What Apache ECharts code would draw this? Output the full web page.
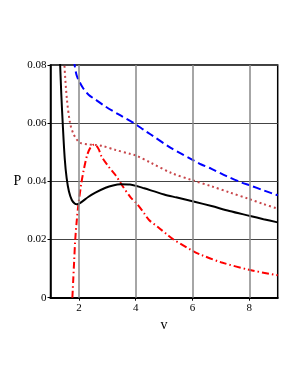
<!DOCTYPE html>
<html><head><meta charset="utf-8">
<script src="https://cdn.jsdelivr.net/npm/echarts@6/dist/echarts.min.js"></script>
<style>html,body{margin:0;padding:0;background:#fff}#c{width:300px;height:388px}</style>
</head><body><div id="c"></div>
<script>
const xTicks = [2, 4, 6, 8];
const yTicks = [0, 0.02, 0.04, 0.06, 0.08];
const blackSolid = [[1.28,0.095],[1.34,0.08],[1.38,0.07],[1.43,0.06],[1.5,0.048],[1.57,0.041],[1.65,0.0365],[1.75,0.0336],[1.85,0.0324],[1.93,0.0321],[2.05,0.0326],[2.34,0.0347],[2.58,0.0361],[2.94,0.0378],[3.2,0.0386],[3.47,0.039],[3.8,0.0389],[4.03,0.0384],[4.3,0.0376],[5.0,0.0355],[5.42,0.0345],[6.07,0.033],[6.67,0.0315],[7.3,0.0298],[8.03,0.0281],[8.5,0.027],[9.0,0.0259]];
const blueDashed = [[1.8,0.086],[1.85,0.08],[1.92,0.0765],[2.01,0.0744],[2.15,0.072],[2.34,0.0698],[2.6,0.068],[2.94,0.0657],[3.4,0.063],[3.94,0.06],[4.3,0.0576],[4.53,0.0561],[5.25,0.0514],[5.6,0.0495],[6.02,0.0473],[6.31,0.0458],[6.67,0.0443],[7.2,0.0418],[7.73,0.0396],[8.03,0.0386],[8.5,0.0369],[8.91,0.0355],[9.0,0.0352]];
const redDotted = [[1.45,0.09],[1.49,0.08],[1.58,0.068],[1.69,0.06],[1.8,0.0565],[1.93,0.0543],[2.05,0.0532],[2.3,0.0527],[2.6,0.0525],[2.82,0.0522],[3.29,0.0508],[3.82,0.0494],[4.03,0.0488],[4.53,0.0464],[5.25,0.0429],[6.02,0.0403],[6.67,0.0383],[7.3,0.0362],[8.0,0.0339],[8.5,0.0322],[9.0,0.0306]];
const redDashDot = [[1.77,0.0],[1.8,0.006],[1.83,0.012],[1.87,0.0198],[1.92,0.026],[1.97,0.031],[2.08,0.039],[2.17,0.0439],[2.29,0.049],[2.4,0.0515],[2.52,0.0526],[2.6,0.0524],[2.7,0.051],[2.8,0.0485],[3.05,0.045],[3.3,0.042],[3.53,0.0385],[3.82,0.0345],[4.03,0.0324],[4.3,0.029],[4.47,0.0267],[4.77,0.0244],[5.13,0.0215],[5.3,0.0202],[6.02,0.016],[6.31,0.0147],[7.0,0.0122],[8.03,0.0095],[9.0,0.0077]];

const chart = echarts.init(document.getElementById('c'), null, {renderer:'canvas'});
const font = '"Liberation Serif", "DejaVu Serif", serif';
chart.setOption({
  animation: false,
  backgroundColor: '#fff',
  grid: {left: 50.5, right: 22.3, top: 65, bottom: 90.3, show: true, borderColor: '#000', borderWidth: 1.5, backgroundColor: 'transparent'},
  xAxis: {
    type: 'value', min: 1, max: 9,
    name: 'v', nameLocation: 'middle', nameGap: 21,
    nameTextStyle: {fontFamily: font, fontSize: 14, color: '#000'},
    axisLine: {show: true, lineStyle: {color: '#000', width: 2}},
    axisTick: {show: true, customValues: xTicks, length: 3, lineStyle: {color: '#000'}},
    axisLabel: {customValues: xTicks, fontFamily: font, fontSize: 11, color: '#000', margin: 5},
    splitLine: {show: false}
  },
  yAxis: {
    type: 'value', min: 0, max: 0.08, interval: 0.02,
    name: 'P', nameLocation: 'middle', nameGap: 27, nameRotate: 0,
    nameTextStyle: {fontFamily: font, fontSize: 14, color: '#000'},
    axisLine: {show: true, lineStyle: {color: '#000', width: 1.5}},
    axisTick: {show: true, length: 3, lineStyle: {color: '#000'}},
    axisLabel: {fontFamily: font, fontSize: 11, color: '#000', margin: 4,
      formatter: v => String(+v.toFixed(2))},
    splitLine: {show: true, lineStyle: {color: '#444', width: 1}}
  },
  series: [
    {type: 'line', data: [], silent: true,
     markLine: {silent: true, symbol: 'none', label: {show: false},
       lineStyle: {color: '#888', width: 1.5, type: 'solid'},
       data: xTicks.map(x => ({xAxis: x}))}},
    {type: 'line', data: redDashDot, showSymbol: false, smooth: 0.3, clip: true,
     lineStyle: {color: '#ff0000', width: 2, type: [7, 3, 1.5, 3]}},
    {type: 'line', data: redDotted, showSymbol: false, smooth: 0.3, clip: true,
     lineStyle: {color: '#c8464a', width: 2, type: [2, 3]}},
    {type: 'line', data: blueDashed, showSymbol: false, smooth: 0.3, clip: true,
     lineStyle: {color: '#0000ff', width: 2, type: [8, 4]}},
    {type: 'line', data: blackSolid, showSymbol: false, smooth: 0.3, clip: true,
     lineStyle: {color: '#000', width: 2}}
  ]
});
</script></body></html>
